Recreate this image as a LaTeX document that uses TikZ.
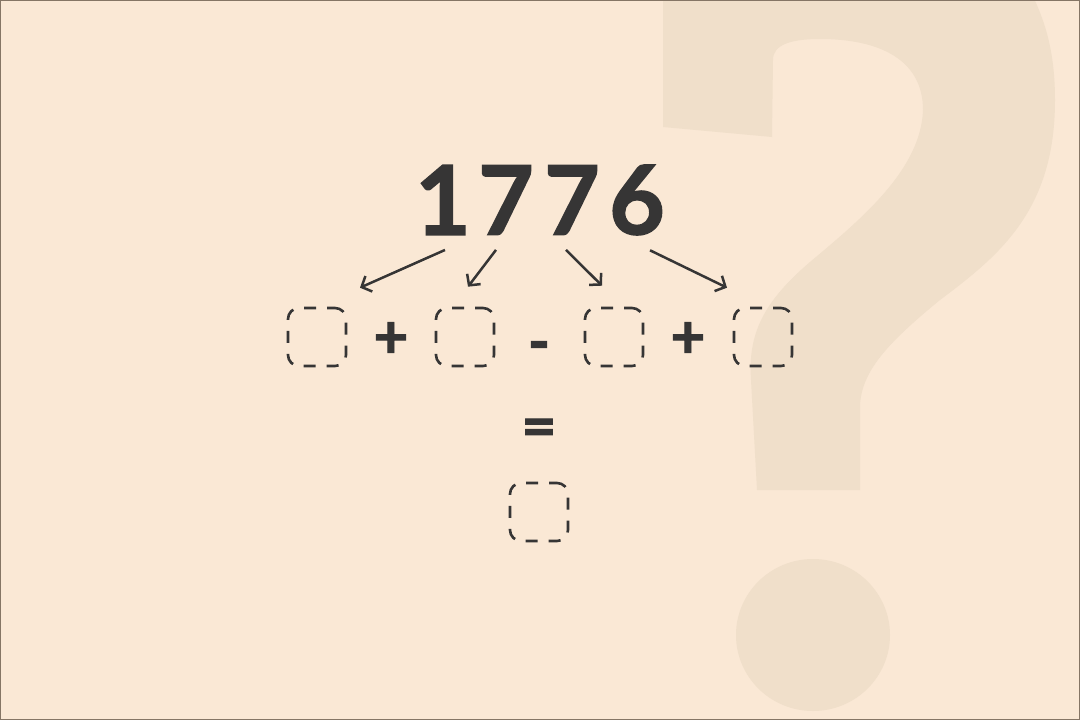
\documentclass[tikz,border=0pt]{standalone}
\usepackage{fontspec}
\setmainfont{Lato}[BoldFeatures={FakeBold=1.6}]
\usepackage{xcolor}
\definecolor{paper}{HTML}{FAE8D5}
\definecolor{qmark}{HTML}{F0DFCA}
\definecolor{ink}{HTML}{363535}
\definecolor{edge}{HTML}{857565}
\usetikzlibrary{arrows.meta}

\begin{document}
\begin{tikzpicture}[x=1pt,y=-1pt,
    digit/.style={font=\fontsize{96}{96}\selectfont\bfseries, text=ink, inner sep=0pt},
    oper/.style={font=\fontsize{60}{60}\selectfont\bfseries, text=ink, inner sep=0pt},
    slot/.style={draw=ink, line width=2.6pt, rounded corners=11pt, minimum size=58pt,
      inner sep=0pt, dash pattern=on 12pt off 11pt, dash phase=4pt},
    arr/.style={draw=ink, line width=2.5pt, -{Straight Barb[length=8pt,width=17pt]}}]
        \useasboundingbox (0,0) rectangle (1080,720);
        \fill[paper] (0,0) rectangle (1080,720);

        % big question mark in the back
        \begin{scope}
          \clip (0,0) rectangle (1080,720);
          \fill[qmark] (663,-10) -- (663,127) -- (772,137) -- (773,60)
            .. controls (773,45) and (790,39) .. (820,39)
            .. controls (880,39) and (923,60) .. (923,110)
            .. controls (921,170) and (860,220) .. (810,262)
            .. controls (762,303) and (748,335) .. (751,380)
            -- (757,490) -- (860,490) -- (860,405)
            .. controls (862,372) and (885,345) .. (940,300)
            .. controls (1000,255) and (1055,210) .. (1055,100)
            .. controls (1055,45) and (1042,15) .. (1030,-10) -- cycle;
          \fill[qmark] (813,635) ellipse [x radius=77, y radius=76];
        \end{scope}

        \node[digit] (d1) at (443,200) {1};
        \node[digit] (d2) at (506,200) {7};
        \node[digit] (d3) at (572,200) {7};
        \node[digit] (d4) at (637,200) {6};

        \node[slot] (s1) at (317,337) {};
        \node[slot] (s2) at (465,337) {};
        \node[slot] (s3) at (614,337) {};
        \node[slot] (s4) at (763,337) {};
        \node[slot] (res) at (539,512) {};

        \node[oper] (plus1) at (391,340) {+};
        \node[oper] (minus) at (539,352) {-};
        \node[oper] (plus2) at (688,340) {+};
        \node[oper] (eq) at (539,433) {=};

        \draw[arr] ([xshift=2pt,yshift=-15pt]d1.south) -- ([xshift=43pt,yshift=19pt]s1.north);
        \draw[arr] ([xshift=-10pt,yshift=-15pt]d2.south) -- ([xshift=3pt,yshift=20pt]s2.north);
        \draw[arr] ([xshift=-6pt,yshift=-15pt]d3.south) -- ([xshift=-12pt,yshift=21pt]s3.north);
        \draw[arr] ([xshift=13pt,yshift=-15pt]d4.south) -- ([xshift=-36pt,yshift=19pt]s4.north);

        \draw[edge, line width=1.2pt] (0.6,0.6) rectangle (1079.4,719.4);
\end{tikzpicture}
\end{document}
